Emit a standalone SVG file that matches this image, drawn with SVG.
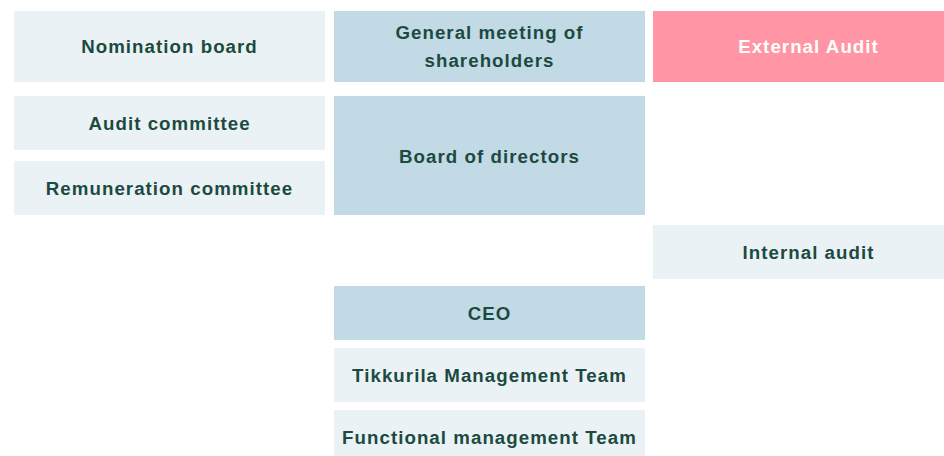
<svg xmlns="http://www.w3.org/2000/svg" width="944" height="456" viewBox="0 0 944 456">
<style>
.l{fill:#EAF2F5}.b{fill:#C1DAE6}.p{fill:#FF95A5}
text{font-family:"Liberation Sans",Arial,sans-serif;font-weight:bold;font-size:18.7px;letter-spacing:1.05px;fill:#1D4A40;text-anchor:middle}
.w{fill:#FFFFFF}
</style>
<rect width="944" height="456" fill="#FFFFFF"/>
<g id="nomination"><rect class="l" x="14" y="11" width="311" height="71"/><text x="169.5" y="53">Nomination board</text></g>
<g id="audit-committee"><rect class="l" x="14" y="96" width="311" height="54"/><text x="169.5" y="130">Audit committee</text></g>
<g id="remuneration"><rect class="l" x="14" y="161" width="311" height="54"/><text x="169.5" y="195">Remuneration committee</text></g>
<g id="agm"><rect class="b" x="334" y="11" width="311" height="71"/><text x="489.5" y="39">General meeting of</text><text x="489.5" y="67">shareholders</text></g>
<g id="board"><rect class="b" x="334" y="96" width="311" height="119"/><text x="489.5" y="163">Board of directors</text></g>
<g id="ceo"><rect class="b" x="334" y="286" width="311" height="54"/><text x="489.5" y="320">CEO</text></g>
<g id="tmt"><rect class="l" x="334" y="348" width="311" height="54"/><text x="489.5" y="382">Tikkurila Management Team</text></g>
<g id="fmt"><rect class="l" x="334" y="410" width="311" height="54"/><text x="489.5" y="444">Functional management Team</text></g>
<g id="external"><rect class="p" x="653" y="11" width="291" height="71"/><text class="w" x="808.5" y="53">External Audit</text></g>
<g id="internal"><rect class="l" x="653" y="225" width="291" height="54"/><text x="808.5" y="259">Internal audit</text></g>
<g id="connectors"></g>
</svg>
